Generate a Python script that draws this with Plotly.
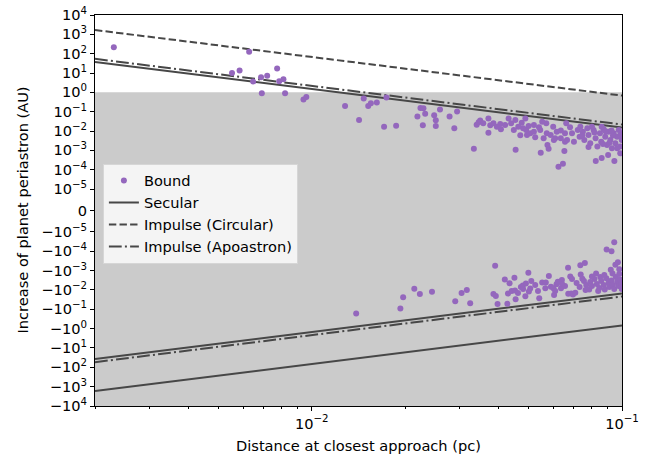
import numpy as np
import plotly.graph_objects as go

# ---------------- data ----------------
# Bound encounters with a positive change of periastron: distance (pc), increase (AU)
pos_distance = [
    0.0023, 0.00628, 0.00553, 0.00585, 0.00647, 0.00686, 0.00718, 0.00773, 0.00785, 0.0081,
    0.0069, 0.0082, 0.0094, 0.0096, 0.0128, 0.0142, 0.0147, 0.0152, 0.0155, 0.0162,
    0.0174, 0.0171, 0.0187, 0.0219, 0.0224, 0.0229, 0.0232, 0.0228, 0.0248, 0.0251,
    0.0251, 0.0259, 0.0278, 0.0294, 0.0288, 0.0333, 0.034, 0.0345, 0.0349, 0.0371,
    0.0371, 0.0376, 0.0385, 0.0405, 0.0407, 0.0431, 0.0439, 0.0454, 0.047, 0.0453,
    0.0475, 0.0491, 0.050, 0.0506, 0.0525, 0.0547, 0.0545, 0.057, 0.0572, 0.058,
    0.0575, 0.060, 0.0609, 0.0624, 0.0645, 0.0652, 0.0635, 0.0655, 0.0665, 0.0661,
    0.0823, 0.086, 0.0902, 0.0945, 0.0987, 0.069, 0.070, 0.072, 0.073, 0.0748,
    0.0756, 0.0773, 0.078, 0.079, 0.081, 0.0822, 0.0833, 0.0849, 0.0857, 0.0873,
    0.0883, 0.0895, 0.0905, 0.0917, 0.0928, 0.094, 0.0952, 0.0964, 0.0976, 0.0987,
    0.0998, 0.0995, 0.086, 0.080, 0.0734, 0.068, 0.0616, 0.0589, 0.0603, 0.0635,
    0.0655, 0.052, 0.054, 0.0559, 0.048, 0.0463, 0.042, 0.0395, 0.0357, 0.0488,
    0.052, 0.0553, 0.0448, 0.0494, 0.078, 0.0868, 0.091, 0.0965, 0.0935, 0.0885,
    0.0815, 0.0745, 0.0985, 0.0925,
]
pos_increase = [
    212, 126, 10, 13.4, 3.6, 6.0, 7.2, 17, 3.8, 4.7,
    0.90, 0.90, 0.43, 0.57, 0.196, 0.037, 0.48, 0.196, 0.27, 0.30,
    0.54, 0.0166, 0.0186, 0.057, 0.154, 0.15, 0.078, 0.0197, 0.065, 0.036,
    0.0181, 0.129, 0.057, 0.102, 0.014, 0.0012, 0.0209, 0.028, 0.035, 0.044,
    0.0081, 0.020, 0.025, 0.023, 0.0122, 0.045, 0.025, 0.00108, 0.0060, 0.037,
    0.0271, 0.0112, 0.018, 0.0076, 0.0047, 0.00075, 0.0112, 0.025, 0.0076, 0.0012,
    0.0019, 0.0166, 0.0042, 0.00014, 0.0002, 0.00092, 0.0106, 0.0076, 0.0034, 0.025,
    0.00028, 0.0004, 0.00057, 0.00028, 0.00070, 0.0076, 0.0028, 0.0112, 0.0051, 0.0092,
    0.0034, 0.0137, 0.0062, 0.0023, 0.0112, 0.0042, 0.0016, 0.0076, 0.0028, 0.0122,
    0.0051, 0.0019, 0.0092, 0.0034, 0.0013, 0.0076, 0.0023, 0.0051, 0.0112, 0.0016,
    0.0034, 0.0076, 0.0166, 0.0166, 0.0166, 0.0157, 0.0092, 0.0062, 0.0034, 0.0042,
    0.0028, 0.0092, 0.0157, 0.0042, 0.0137, 0.0166, 0.0204, 0.0166, 0.025, 0.045,
    0.0204, 0.030, 0.0112, 0.0062, 0.0015, 0.0021, 0.0024, 0.0013, 0.0058, 0.0098,
    0.0085, 0.0058, 0.0058, 0.0105,
]
# Bound encounters with a negative change of periastron
neg_distance = [
    0.0139, 0.0193, 0.0197, 0.0214, 0.0223, 0.0244, 0.029, 0.0304, 0.0316, 0.0324,
    0.039, 0.0385, 0.0392, 0.0397, 0.0419, 0.0434, 0.045, 0.0427, 0.0429, 0.0441,
    0.0452, 0.0454, 0.0462, 0.0472, 0.0479, 0.048, 0.0488, 0.0499, 0.0506, 0.0501,
    0.0536, 0.0541, 0.0553, 0.0568, 0.0566, 0.0581, 0.059, 0.0601, 0.0609, 0.0604,
    0.0615, 0.064, 0.0636, 0.067, 0.0671, 0.0686, 0.0695, 0.0681, 0.069, 0.0707,
    0.0734, 0.0759, 0.0736, 0.0745, 0.0825, 0.0851, 0.0838, 0.0892, 0.0925, 0.0944,
    0.092, 0.0952, 0.097, 0.098, 0.0714, 0.073, 0.0754, 0.0767, 0.0784, 0.079,
    0.080, 0.0815, 0.083, 0.0845, 0.0857, 0.0873, 0.088, 0.089, 0.0905, 0.091,
    0.0925, 0.0935, 0.0944, 0.0955, 0.0965, 0.0975, 0.0987, 0.0995, 0.0998, 0.098,
    0.0932, 0.0877, 0.080, 0.0763, 0.0655, 0.0641, 0.0621, 0.0525, 0.051, 0.049,
]
neg_increase = [
    -0.164, -0.090, -0.0238, -0.0086, -0.0161, -0.0122, -0.038, -0.0145, -0.0100, -0.049,
    -0.00055, -0.0161, -0.0204, -0.053, -0.0029, -0.0045, -0.0023, -0.052, -0.0152, -0.0112,
    -0.0105, -0.030, -0.0145, -0.007, -0.0058, -0.0089, -0.021, -0.00127, -0.0083, -0.0119,
    -0.0112, -0.0268, -0.0041, -0.0041, -0.0082, -0.0019, -0.0068, -0.0082, -0.0112, -0.0183,
    -0.005, -0.0030, -0.0082, -0.00070, -0.0155, -0.0152, -0.017, -0.0020, -0.0027, -0.0137,
    -0.00053, -0.0004, -0.0016, -0.0026, -0.0014, -0.0021, -0.0112, -0.00008, -0.0001, -0.000034,
    -0.00089, -0.00049, -0.00037, -0.00085, -0.0043, -0.007, -0.0034, -0.0055, -0.0094, -0.0039,
    -0.0062, -0.0027, -0.0049, -0.0079, -0.0034, -0.0055, -0.0094, -0.0025, -0.0043, -0.007,
    -0.0032, -0.0055, -0.0089, -0.0021, -0.0039, -0.0062, -0.0029, -0.0049, -0.0089, -0.0015,
    -0.0014, -0.0017, -0.002, -0.0100, -0.0062, -0.0049, -0.0037, -0.0055, -0.0034, -0.0046,
]
# Analytic limits, end points over the plotted distance range (pc -> AU)
line_distance = [0.002, 0.1]
secular = [37.4, 0.015]
impulse_circular = [1670, 0.68]
impulse_apoastron = [54, 0.0216]

y_tick_values = [1e4, 1e3, 1e2, 1e1, 1e0, 1e-1, 1e-2, 1e-3, 1e-4, 1e-5, 0,
                 -1e-5, -1e-4, -1e-3, -1e-2, -1e-1, -1e0, -1e1, -1e2, -1e3, -1e4]
y_tick_labels = ["10<sup>4</sup>", "10<sup>3</sup>", "10<sup>2</sup>", "10<sup>1</sup>", "10<sup>0</sup>",
                 "10<sup>−1</sup>", "10<sup>−2</sup>", "10<sup>−3</sup>", "10<sup>−4</sup>", "10<sup>−5</sup>", "0",
                 "−10<sup>−5</sup>", "−10<sup>−4</sup>", "−10<sup>−3</sup>", "−10<sup>−2</sup>", "−10<sup>−1</sup>",
                 "−10<sup>0</sup>", "−10<sup>1</sup>", "−10<sup>2</sup>", "−10<sup>3</sup>", "−10<sup>4</sup>"]
x_tick_values = [0.01, 0.1]
x_tick_labels = ["10<sup>−2</sup>", "10<sup>−1</sup>"]
x_title = "Distance at closest approach (pc)"
y_title = "Increase of planet periastron (AU)"

# ---------------- symlog scale (matplotlib style, linthresh=1e-5, linscale=1) ----------------
LINTHRESH = 1e-5
LINSCALE_ADJ = 1.0 / (1.0 - 1.0 / 10.0)


def symlog(v):
    v = np.asarray(v, dtype=float)
    a = np.abs(v)
    out = np.where(a <= LINTHRESH, v / LINTHRESH * LINSCALE_ADJ,
                   np.sign(v) * (LINSCALE_ADJ + np.log10(np.maximum(a, LINTHRESH) / LINTHRESH)))
    return out


LINE_COLOR = "#474747"
PURPLE = "#9467bd"
FONT = "DejaVu Sans"
FS = 14.6
LW = 2
DASHED = "7.4px,3.2px"
DASHDOT = "12.8px,3.2px,2px,3.2px"

W, H = 654, 461
ML, MR, MT, MB = 95, 32, 15, 55
PW, PH = W - ML - MR, H - MT - MB

fig = go.Figure()

# Shaded region (from 1 AU downward)
fig.add_shape(type="rect", xref="paper", x0=0, x1=1, yref="y",
              y0=float(symlog(-1e4)), y1=float(symlog(1.0)),
              fillcolor="#cbcbcb", line_width=0, layer="below")

# positive side lines
fig.add_trace(go.Scatter(x=line_distance, y=symlog(secular), mode="lines", name="Secular",
                         line=dict(color=LINE_COLOR, width=LW), legendrank=2))
fig.add_trace(go.Scatter(x=line_distance, y=symlog(impulse_circular), mode="lines", name="Impulse (Circular)",
                         line=dict(color=LINE_COLOR, width=LW, dash=DASHED), legendrank=3))
fig.add_trace(go.Scatter(x=line_distance, y=symlog(impulse_apoastron), mode="lines", name="Impulse (Apoastron)",
                         line=dict(color=LINE_COLOR, width=LW, dash=DASHDOT), legendrank=4))
# negative side lines
fig.add_trace(go.Scatter(x=line_distance, y=symlog(-np.asarray(secular)), mode="lines", showlegend=False,
                         line=dict(color=LINE_COLOR, width=LW)))
fig.add_trace(go.Scatter(x=line_distance, y=symlog(-np.asarray(impulse_circular)), mode="lines", showlegend=False,
                         line=dict(color=LINE_COLOR, width=LW)))
fig.add_trace(go.Scatter(x=line_distance, y=symlog(-np.asarray(impulse_apoastron)), mode="lines", showlegend=False,
                         line=dict(color=LINE_COLOR, width=LW, dash=DASHDOT)))

# bound points
fig.add_trace(go.Scatter(x=pos_distance, y=symlog(pos_increase), mode="markers", name="Bound",
                         marker=dict(color=PURPLE, size=6, line_width=0), legendrank=1))
fig.add_trace(go.Scatter(x=neg_distance, y=symlog(neg_increase), mode="markers", showlegend=False,
                         marker=dict(color=PURPLE, size=6, line_width=0)))

minor_x = [k * 10.0 ** e for e in (-3, -2) for k in range(2, 10) if 0.002 <= k * 10.0 ** e < 0.1]

# axis titles as annotations for exact placement
fig.add_annotation(text=x_title, xref="paper", yref="paper", x=0.5, y=-(445 - (MT + PH)) / PH,
                   xanchor="center", yanchor="middle", showarrow=False, font=dict(size=FS))
fig.add_annotation(text=y_title, xref="paper", yref="paper", x=(22 - ML) / PW, y=0.5,
                   xanchor="center", yanchor="middle", textangle=-90, showarrow=False, font=dict(size=FS))

fig.update_layout(
    width=W, height=H,
    margin=dict(l=ML, r=MR, t=MT, b=MB),
    paper_bgcolor="white", plot_bgcolor="white",
    font=dict(family=FONT, size=FS, color="black"),
    showlegend=True,
    legend=dict(x=0.015, y=0.62, xanchor="left", yanchor="top",
                bgcolor="rgba(244,244,244,1)", bordercolor="#d6d6d6", borderwidth=1,
                font=dict(family=FONT, size=FS), tracegroupgap=0, itemwidth=30),
    xaxis=dict(type="log", range=[np.log10(0.002), -1.0], automargin=False,
               tickvals=x_tick_values, ticktext=x_tick_labels,
               ticks="outside", ticklen=4, tickwidth=1, tickcolor="black",
               showgrid=False, zeroline=False,
               showline=True, linecolor="black", linewidth=1, mirror=True,
               minor=dict(tickvals=minor_x, ticks="outside", ticklen=2, tickwidth=0.8,
                          tickcolor="black", showgrid=False)),
    yaxis=dict(range=[float(symlog(-1e4)), float(symlog(1e4))], automargin=False,
               tickvals=symlog(y_tick_values).tolist(), ticktext=y_tick_labels,
               ticks="outside", ticklen=4, tickwidth=1, tickcolor="black",
               showgrid=False, zeroline=False,
               showline=True, linecolor="black", linewidth=1, mirror=True),
)

fig.write_html("out.html")
